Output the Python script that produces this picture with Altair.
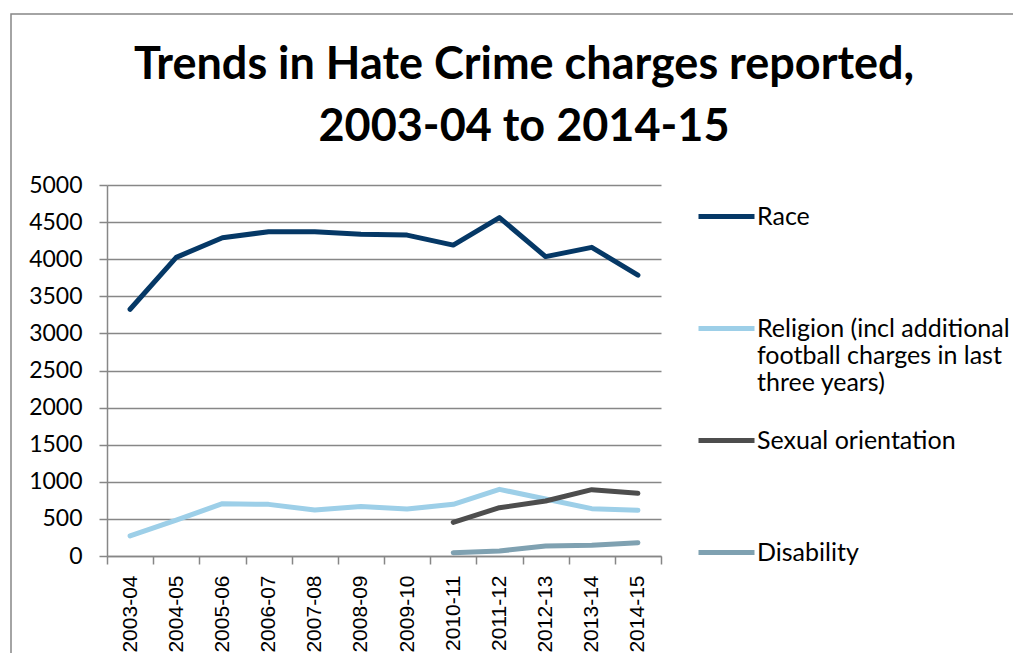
import altair as alt
import pandas as pd

years = ["2003-04", "2004-05", "2005-06", "2006-07", "2007-08", "2008-09",
         "2009-10", "2010-11", "2011-12", "2012-13", "2013-14", "2014-15"]
race = [3325, 4025, 4290, 4370, 4370, 4335, 4325, 4190, 4560, 4035, 4160, 3785]
religion = [270, 485, 705, 696, 620, 668, 633, 696, 898, 768, 638, 616]
recent_years = ["2010-11", "2011-12", "2012-13", "2013-14", "2014-15"]
sexual_orientation = [454, 651, 741, 894, 845]
disability = [45, 67, 135, 144, 180]

series_names = ["Race",
                "Religion (incl additional football charges in last three years)",
                "Sexual orientation",
                "Disability"]
series_colors = ["#053866", "#9dcfe8", "#4d4d4d", "#7fa1b1"]
y_ticks = [0, 500, 1000, 1500, 2000, 2500, 3000, 3500, 4000, 4500, 5000]
title_lines = ["Trends in Hate Crime charges reported,", "2003-04 to 2014-15"]

rows = []
for y, v in zip(years, race):
    rows.append({"year": y, "series": series_names[0], "charges": v})
for y, v in zip(years, religion):
    rows.append({"year": y, "series": series_names[1], "charges": v})
for y, v in zip(recent_years, sexual_orientation):
    rows.append({"year": y, "series": series_names[2], "charges": v})
for y, v in zip(recent_years, disability):
    rows.append({"year": y, "series": series_names[3], "charges": v})
df = pd.DataFrame(rows)

GRAY = "#878787"

label_expr = (
    "datum.label == '" + series_names[1] + "' ? "
    "['Religion (incl additional', 'football charges in last', 'three years)']"
    " : [datum.label, '', '']"
)

lines = alt.Chart(df).mark_line(strokeWidth=5, strokeCap="round", strokeJoin="round").encode(
    x=alt.X("year:O", sort=years, title=None,
            scale=alt.Scale(type="band", paddingInner=0, paddingOuter=0),
            axis=alt.Axis(labelAngle=-90, tickBand="extent", tickSize=8, labelPadding=11,
                          labelFont="Liberation Sans", labelFontSize=21, labelColor="black",
                          domainColor=GRAY, domainWidth=1.5, tickColor=GRAY, tickWidth=1.5,
                          grid=False)),
    y=alt.Y("charges:Q", title=None,
            scale=alt.Scale(domain=[0, 5000], nice=False),
            axis=alt.Axis(values=y_ticks, format="d", tickSize=8, labelPadding=17,
                          labelFont="Lato", labelFontSize=23, labelColor="black",
                          domainColor=GRAY, domainWidth=1.5, tickColor=GRAY, tickWidth=1.5,
                          gridColor=GRAY, gridWidth=1.5)),
    color=alt.Color("series:N", title=None,
                    scale=alt.Scale(domain=series_names, range=series_colors),
                    legend=alt.Legend(orient="none", legendX=589, legendY=1,
                                      symbolType="stroke", symbolSize=3136, symbolStrokeWidth=5,
                                      labelFont="Lato", labelFontSize=25, labelColor="black",
                                      labelLimit=400, labelOffset=0, rowPadding=14, padding=0,
                                      labelExpr=label_expr)),
    order=alt.Order("year:O"),
)

frame = alt.Chart(pd.DataFrame({"frame": [0]})).mark_rect(
    fillOpacity=0, stroke=GRAY, strokeWidth=1.5
).encode(x=alt.value(-96), x2=alt.value(1000), y=alt.value(-171), y2=alt.value(700))

chart = alt.layer(frame, lines).properties(
    width=554,
    height=371,
    padding={"left": 99, "top": 177, "right": 352, "bottom": 97},
    autosize=alt.AutoSizeParams(type="none"),
    title=alt.TitleParams(text=title_lines, font="Lato", fontSize=45, fontWeight="bold",
                          color="black", lineHeight=62, anchor="middle", frame="group",
                          dx=140, offset=-137),
).configure_view(strokeWidth=0)

chart.save("out.html", embed_options={"renderer": "svg", "actions": False})
